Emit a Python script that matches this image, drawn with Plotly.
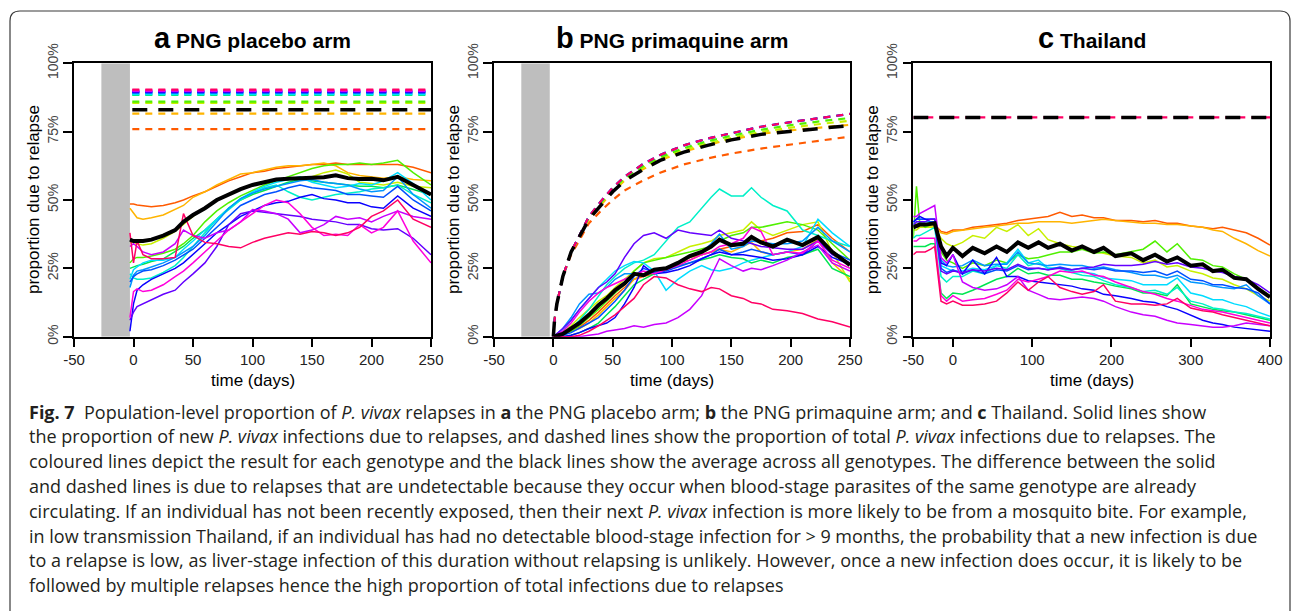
import plotly.graph_objects as go

W, H = 1293, 611

# ---------------- colours (one per genotype) ----------------
geno = ["orange", "amber", "lime", "green", "emerald", "aqua", "cyan", "sky",
        "azure", "blue", "violet", "purple", "magenta", "rose"]
colours = {
    "orange": "#FF5A00", "amber": "#FFB400", "lime": "#C8F000", "green": "#50F000",
    "emerald": "#00E650", "aqua": "#00F0C8", "cyan": "#00DCFF", "sky": "#0096FF",
    "azure": "#0050FF", "blue": "#0A00FF", "violet": "#6400FF", "purple": "#C800FF",
    "magenta": "#FF00DC", "rose": "#FF0064",
}

# ---------------- panel a: PNG placebo arm ----------------
xa = [-3, 0, 3, 8, 15, 25, 35, 42, 50, 60, 70, 80, 90, 100, 110, 120, 130, 140,
      150, 160, 170, 180, 190, 200, 210, 222, 235, 250]
a_mean = [0.355, 0.35, 0.35, 0.35, 0.355, 0.37, 0.39, 0.42, 0.445, 0.47, 0.50, 0.52, 0.54, 0.555,
          0.565, 0.575, 0.578, 0.58, 0.58, 0.583, 0.59, 0.58, 0.577, 0.578, 0.572, 0.585, 0.555, 0.52]
a_orange = [0.485, 0.485, 0.482, 0.478, 0.475, 0.48, 0.49, 0.50, 0.515, 0.53, 0.55, 0.57, 0.585, 0.60,
            0.605, 0.615, 0.62, 0.625, 0.63, 0.63, 0.635, 0.63, 0.63, 0.632, 0.63, 0.63, 0.62, 0.60]
a_amber = [0.47, 0.45, 0.435, 0.43, 0.435, 0.445, 0.465, 0.48, 0.51, 0.53, 0.555, 0.575, 0.595, 0.60,
           0.61, 0.62, 0.625, 0.625, 0.63, 0.635, 0.625, 0.60, 0.59, 0.585, 0.58, 0.585, 0.575, 0.57]
a_lime = [0.345, 0.345, 0.34, 0.335, 0.34, 0.36, 0.385, 0.41, 0.44, 0.47, 0.50, 0.52, 0.54, 0.555,
          0.565, 0.57, 0.575, 0.58, 0.585, 0.60, 0.61, 0.595, 0.565, 0.56, 0.555, 0.565, 0.55, 0.545]
a_green = [0.27, 0.285, 0.29, 0.29, 0.295, 0.305, 0.32, 0.34, 0.37, 0.42, 0.46, 0.49, 0.515, 0.535,
           0.555, 0.57, 0.585, 0.60, 0.615, 0.625, 0.63, 0.63, 0.635, 0.63, 0.635, 0.645, 0.60, 0.555]
a_emerald = [0.25, 0.255, 0.26, 0.265, 0.275, 0.285, 0.31, 0.33, 0.36, 0.39, 0.43, 0.47, 0.50, 0.52,
             0.535, 0.55, 0.565, 0.575, 0.57, 0.565, 0.56, 0.555, 0.55, 0.55, 0.545, 0.555, 0.54, 0.52]
a_aqua = [0.23, 0.215, 0.21, 0.21, 0.215, 0.235, 0.26, 0.29, 0.33, 0.38, 0.43, 0.465, 0.50, 0.525,
          0.545, 0.555, 0.53, 0.51, 0.50, 0.51, 0.52, 0.525, 0.53, 0.54, 0.545, 0.555, 0.52, 0.49]
a_cyan = [0.21, 0.245, 0.255, 0.27, 0.28, 0.28, 0.29, 0.32, 0.35, 0.39, 0.43, 0.47, 0.505, 0.53,
          0.55, 0.565, 0.575, 0.585, 0.565, 0.555, 0.545, 0.55, 0.56, 0.555, 0.57, 0.60, 0.56, 0.50]
a_sky = [0.18, 0.225, 0.24, 0.245, 0.255, 0.27, 0.29, 0.31, 0.33, 0.37, 0.42, 0.47, 0.505, 0.525,
         0.54, 0.55, 0.56, 0.57, 0.575, 0.565, 0.56, 0.555, 0.54, 0.53, 0.535, 0.585, 0.52, 0.47]
a_azure = [0.20, 0.22, 0.23, 0.24, 0.245, 0.26, 0.28, 0.30, 0.32, 0.36, 0.40, 0.44, 0.48, 0.50,
           0.52, 0.53, 0.545, 0.555, 0.545, 0.54, 0.535, 0.52, 0.52, 0.515, 0.51, 0.55, 0.50, 0.46]
a_blue = [0.02, 0.12, 0.17, 0.19, 0.21, 0.23, 0.25, 0.27, 0.30, 0.34, 0.38, 0.41, 0.44, 0.46,
          0.48, 0.49, 0.495, 0.51, 0.52, 0.505, 0.50, 0.49, 0.49, 0.475, 0.47, 0.515, 0.47, 0.44]
a_violet = [0.06, 0.09, 0.11, 0.12, 0.135, 0.155, 0.17, 0.20, 0.23, 0.27, 0.33, 0.41, 0.45, 0.46,
            0.455, 0.45, 0.445, 0.44, 0.43, 0.425, 0.42, 0.41, 0.41, 0.395, 0.39, 0.395, 0.36, 0.30]
a_purple = [0.33, 0.34, 0.33, 0.31, 0.30, 0.31, 0.34, 0.39, 0.37, 0.36, 0.38, 0.39, 0.42, 0.465,
            0.46, 0.45, 0.43, 0.38, 0.39, 0.41, 0.44, 0.43, 0.435, 0.42, 0.44, 0.46, 0.44, 0.43]
a_magenta = [0.07, 0.165, 0.175, 0.165, 0.17, 0.19, 0.22, 0.24, 0.27, 0.31, 0.35, 0.39, 0.42, 0.45,
             0.48, 0.50, 0.49, 0.45, 0.40, 0.37, 0.375, 0.37, 0.41, 0.38, 0.40, 0.46, 0.35, 0.27]
a_rose = [0.38, 0.27, 0.35, 0.30, 0.285, 0.285, 0.29, 0.45, 0.37, 0.345, 0.34, 0.33, 0.325, 0.345,
          0.36, 0.37, 0.38, 0.375, 0.385, 0.38, 0.37, 0.38, 0.40, 0.44, 0.46, 0.50, 0.43, 0.40]
# dashed (total infections due to relapse): constant level per genotype
xa_dash = [-1, 250]
a_total = {"orange": 0.759, "amber": 0.816, "lime": 0.855, "green": 0.86, "emerald": 0.884,
           "aqua": 0.886, "cyan": 0.888, "sky": 0.892, "azure": 0.894, "blue": 0.895,
           "violet": 0.897, "purple": 0.899, "magenta": 0.902, "rose": 0.904}
a_total_mean = 0.83

# ---------------- panel b: PNG primaquine arm ----------------
xb = [0, 8, 15, 22, 30, 38, 45, 52, 60, 68, 76, 85, 95, 105, 115, 125, 133, 140,
      150, 160, 167, 175, 185, 197, 210, 223, 235, 250]
b_mean = [0, 0.01, 0.03, 0.05, 0.08, 0.115, 0.14, 0.17, 0.195, 0.23, 0.225, 0.245, 0.25, 0.27,
          0.295, 0.31, 0.33, 0.355, 0.335, 0.34, 0.365, 0.345, 0.33, 0.355, 0.335, 0.365, 0.31, 0.262]
b_orange = [0, 0.01, 0.02, 0.035, 0.06, 0.09, 0.12, 0.15, 0.18, 0.21, 0.22, 0.23, 0.25, 0.27,
            0.28, 0.30, 0.31, 0.32, 0.33, 0.34, 0.35, 0.35, 0.36, 0.38, 0.385, 0.41, 0.36, 0.31]
b_amber = [0, 0.01, 0.02, 0.03, 0.05, 0.08, 0.11, 0.14, 0.17, 0.21, 0.23, 0.24, 0.25, 0.27,
           0.29, 0.30, 0.31, 0.32, 0.31, 0.33, 0.345, 0.31, 0.30, 0.31, 0.32, 0.355, 0.27, 0.21]
b_lime = [0, 0.015, 0.04, 0.07, 0.10, 0.13, 0.15, 0.18, 0.21, 0.24, 0.27, 0.285, 0.29, 0.31,
          0.33, 0.34, 0.35, 0.37, 0.38, 0.39, 0.42, 0.39, 0.37, 0.39, 0.41, 0.42, 0.31, 0.20]
b_green = [0, 0.01, 0.02, 0.04, 0.07, 0.10, 0.13, 0.16, 0.19, 0.24, 0.27, 0.28, 0.29, 0.30,
           0.31, 0.32, 0.33, 0.35, 0.37, 0.38, 0.40, 0.40, 0.41, 0.42, 0.41, 0.39, 0.34, 0.28]
b_emerald = [0, 0, 0.005, 0.015, 0.03, 0.05, 0.08, 0.11, 0.15, 0.19, 0.21, 0.23, 0.245, 0.26,
             0.27, 0.28, 0.29, 0.30, 0.29, 0.285, 0.27, 0.28, 0.27, 0.29, 0.30, 0.32, 0.25, 0.22]
b_aqua = [0, 0.01, 0.03, 0.06, 0.10, 0.15, 0.19, 0.22, 0.25, 0.27, 0.28, 0.30, 0.35, 0.40,
          0.42, 0.47, 0.51, 0.54, 0.515, 0.515, 0.545, 0.51, 0.48, 0.46, 0.39, 0.37, 0.35, 0.33]
b_cyan = [0, 0.02, 0.06, 0.10, 0.14, 0.18, 0.21, 0.24, 0.26, 0.275, 0.27, 0.24, 0.17, 0.21,
          0.24, 0.26, 0.245, 0.24, 0.25, 0.27, 0.28, 0.29, 0.30, 0.31, 0.33, 0.43, 0.38, 0.33]
b_sky = [0, 0.03, 0.07, 0.12, 0.155, 0.16, 0.18, 0.21, 0.23, 0.23, 0.225, 0.235, 0.25, 0.27,
         0.29, 0.31, 0.34, 0.375, 0.32, 0.33, 0.35, 0.345, 0.34, 0.34, 0.35, 0.40, 0.35, 0.31]
b_azure = [0, 0.005, 0.015, 0.03, 0.05, 0.07, 0.10, 0.13, 0.17, 0.22, 0.25, 0.235, 0.24, 0.255,
           0.27, 0.285, 0.30, 0.32, 0.30, 0.31, 0.32, 0.31, 0.30, 0.31, 0.30, 0.35, 0.31, 0.28]
b_blue = [0, 0, 0.005, 0.015, 0.03, 0.04, 0.05, 0.07, 0.12, 0.18, 0.26, 0.23, 0.235, 0.245,
          0.26, 0.285, 0.30, 0.31, 0.30, 0.30, 0.295, 0.29, 0.28, 0.285, 0.30, 0.33, 0.29, 0.265]
b_violet = [0, 0.03, 0.06, 0.10, 0.14, 0.18, 0.20, 0.23, 0.29, 0.34, 0.37, 0.38, 0.36, 0.39,
            0.38, 0.375, 0.37, 0.39, 0.36, 0.35, 0.34, 0.33, 0.325, 0.32, 0.32, 0.35, 0.30, 0.27]
b_purple = [0, 0, 0, 0, 0.005, 0.01, 0.02, 0.025, 0.03, 0.04, 0.035, 0.045, 0.05, 0.07,
            0.10, 0.15, 0.22, 0.285, 0.26, 0.24, 0.25, 0.245, 0.26, 0.28, 0.31, 0.335, 0.27, 0.24]
b_magenta = [0, 0.02, 0.05, 0.09, 0.13, 0.16, 0.18, 0.195, 0.21, 0.225, 0.24, 0.23, 0.245, 0.26,
             0.28, 0.30, 0.31, 0.33, 0.34, 0.36, 0.40, 0.385, 0.30, 0.31, 0.305, 0.35, 0.28, 0.25]
b_rose = [0, 0, 0, 0.005, 0.02, 0.04, 0.06, 0.08, 0.11, 0.14, 0.19, 0.22, 0.215, 0.19,
          0.175, 0.165, 0.18, 0.175, 0.15, 0.14, 0.125, 0.12, 0.10, 0.095, 0.085, 0.065, 0.055, 0.035]
# dashed curves (total infections due to relapse)
xb_dash = [0, 1, 3, 8, 15, 20, 30, 40, 50, 60, 75, 90, 110, 130, 150, 175, 200, 225, 250]
b_total_mean = [0, 0.06, 0.12, 0.22, 0.31, 0.35, 0.43, 0.48, 0.53, 0.57, 0.61, 0.645, 0.675, 0.70,
                0.72, 0.74, 0.752, 0.762, 0.772]
b_total_high = [0, 0.06, 0.12, 0.22, 0.31, 0.355, 0.44, 0.495, 0.545, 0.585, 0.63, 0.665, 0.70,
                0.725, 0.745, 0.768, 0.785, 0.80, 0.815]
b_total_green = [0, 0.06, 0.12, 0.22, 0.31, 0.353, 0.437, 0.49, 0.54, 0.58, 0.622, 0.657, 0.69,
                 0.715, 0.735, 0.757, 0.774, 0.788, 0.80]
b_total_lime = [0, 0.06, 0.12, 0.22, 0.31, 0.352, 0.435, 0.487, 0.536, 0.575, 0.617, 0.651, 0.683,
                0.707, 0.727, 0.749, 0.765, 0.778, 0.79]
b_total_amber = [0, 0.06, 0.12, 0.22, 0.31, 0.35, 0.43, 0.481, 0.531, 0.571, 0.611, 0.646, 0.677,
                 0.702, 0.722, 0.742, 0.755, 0.765, 0.775]
b_total_orange = [0, 0.06, 0.12, 0.22, 0.30, 0.34, 0.415, 0.46, 0.50, 0.535, 0.57, 0.60, 0.63,
                  0.652, 0.67, 0.688, 0.703, 0.718, 0.732]

# ---------------- panel c: Thailand ----------------
xc = [-50, -46, -42, -35, -28, -23, -15, -8, 0, 12, 25, 40, 55, 68, 82, 95, 108, 120, 135,
      150, 163, 178, 190, 205, 225, 240, 255, 270, 283, 300, 315, 328, 340, 355, 370, 385, 400]
c_mean = [0.40, 0.405, 0.41, 0.41, 0.415, 0.415, 0.33, 0.295, 0.325, 0.295, 0.325, 0.305, 0.33,
          0.31, 0.345, 0.325, 0.345, 0.325, 0.34, 0.315, 0.33, 0.31, 0.325, 0.295, 0.305, 0.28,
          0.30, 0.275, 0.29, 0.26, 0.265, 0.24, 0.245, 0.215, 0.21, 0.175, 0.145]
c_orange = [0.41, 0.41, 0.41, 0.405, 0.41, 0.41, 0.385, 0.38, 0.39, 0.39, 0.40, 0.405, 0.41,
            0.415, 0.425, 0.43, 0.435, 0.44, 0.455, 0.44, 0.445, 0.435, 0.435, 0.425, 0.425, 0.42,
            0.425, 0.415, 0.415, 0.405, 0.40, 0.395, 0.40, 0.39, 0.38, 0.36, 0.335]
c_amber = [0.40, 0.40, 0.40, 0.40, 0.405, 0.405, 0.38, 0.375, 0.385, 0.39, 0.395, 0.40, 0.405,
           0.41, 0.415, 0.415, 0.42, 0.42, 0.42, 0.415, 0.42, 0.425, 0.43, 0.425, 0.42, 0.415,
           0.415, 0.41, 0.41, 0.405, 0.40, 0.39, 0.385, 0.36, 0.34, 0.315, 0.295]
c_lime = [0.39, 0.39, 0.40, 0.40, 0.40, 0.40, 0.36, 0.34, 0.33, 0.345, 0.37, 0.36, 0.40, 0.385,
          0.41, 0.37, 0.395, 0.355, 0.34, 0.33, 0.325, 0.31, 0.305, 0.295, 0.29, 0.27, 0.28, 0.255,
          0.26, 0.24, 0.23, 0.215, 0.21, 0.19, 0.175, 0.15, 0.13]
c_green = [0.36, 0.55, 0.42, 0.40, 0.41, 0.41, 0.31, 0.28, 0.27, 0.25, 0.27, 0.26, 0.28, 0.27,
           0.30, 0.285, 0.29, 0.30, 0.31, 0.31, 0.32, 0.305, 0.31, 0.30, 0.31, 0.32, 0.35, 0.31,
           0.34, 0.285, 0.28, 0.26, 0.255, 0.23, 0.21, 0.18, 0.15]
c_emerald = [0.33, 0.33, 0.33, 0.33, 0.34, 0.34, 0.16, 0.14, 0.16, 0.155, 0.17, 0.19, 0.21, 0.22,
             0.25, 0.23, 0.235, 0.225, 0.225, 0.21, 0.21, 0.20, 0.195, 0.185, 0.175, 0.16, 0.16,
             0.15, 0.19, 0.12, 0.11, 0.10, 0.095, 0.09, 0.08, 0.07, 0.06]
c_aqua = [0.36, 0.37, 0.37, 0.38, 0.39, 0.40, 0.22, 0.20, 0.22, 0.22, 0.24, 0.23, 0.26, 0.25,
          0.30, 0.26, 0.27, 0.25, 0.25, 0.235, 0.225, 0.22, 0.205, 0.19, 0.18, 0.165, 0.17, 0.155,
          0.18, 0.13, 0.12, 0.105, 0.10, 0.09, 0.085, 0.075, 0.065]
c_cyan = [0.41, 0.42, 0.42, 0.42, 0.42, 0.42, 0.26, 0.25, 0.24, 0.24, 0.25, 0.245, 0.26, 0.27,
          0.32, 0.27, 0.28, 0.25, 0.25, 0.24, 0.235, 0.23, 0.215, 0.21, 0.205, 0.19, 0.19, 0.19,
          0.215, 0.16, 0.15, 0.135, 0.135, 0.12, 0.11, 0.09, 0.075]
c_sky = [0.42, 0.43, 0.43, 0.43, 0.43, 0.43, 0.28, 0.26, 0.255, 0.26, 0.28, 0.26, 0.265, 0.265,
         0.31, 0.27, 0.265, 0.26, 0.265, 0.26, 0.26, 0.25, 0.255, 0.245, 0.235, 0.225, 0.225,
         0.215, 0.225, 0.20, 0.195, 0.185, 0.18, 0.175, 0.19, 0.15, 0.12]
c_azure = [0.42, 0.43, 0.43, 0.43, 0.42, 0.42, 0.25, 0.235, 0.245, 0.23, 0.245, 0.23, 0.245, 0.24,
           0.26, 0.245, 0.25, 0.245, 0.255, 0.245, 0.25, 0.245, 0.25, 0.24, 0.24, 0.235, 0.24,
           0.225, 0.24, 0.21, 0.205, 0.19, 0.19, 0.18, 0.175, 0.16, 0.12]
c_blue = [0.42, 0.43, 0.44, 0.43, 0.43, 0.43, 0.27, 0.26, 0.30, 0.23, 0.28, 0.23, 0.29, 0.22,
          0.22, 0.205, 0.20, 0.195, 0.19, 0.185, 0.175, 0.17, 0.155, 0.15, 0.14, 0.13, 0.125, 0.11,
          0.10, 0.08, 0.06, 0.05, 0.045, 0.035, 0.03, 0.025, 0.02]
c_violet = [0.41, 0.42, 0.42, 0.42, 0.43, 0.43, 0.24, 0.23, 0.24, 0.235, 0.245, 0.24, 0.25, 0.245,
            0.265, 0.25, 0.25, 0.245, 0.25, 0.245, 0.25, 0.255, 0.265, 0.26, 0.26, 0.265, 0.275,
            0.265, 0.27, 0.255, 0.25, 0.24, 0.235, 0.22, 0.21, 0.19, 0.16]
c_purple = [0.44, 0.44, 0.45, 0.46, 0.47, 0.48, 0.29, 0.27, 0.30, 0.20, 0.18, 0.17, 0.175, 0.19,
            0.22, 0.17, 0.155, 0.14, 0.135, 0.14, 0.145, 0.14, 0.13, 0.11, 0.09, 0.08, 0.075, 0.06,
            0.05, 0.045, 0.04, 0.035, 0.035, 0.04, 0.05, 0.045, 0.04]
c_magenta = [0.35, 0.35, 0.36, 0.36, 0.36, 0.36, 0.15, 0.13, 0.15, 0.13, 0.135, 0.14, 0.155, 0.17,
             0.21, 0.20, 0.21, 0.22, 0.24, 0.235, 0.24, 0.225, 0.22, 0.20, 0.18, 0.165, 0.155,
             0.14, 0.13, 0.115, 0.10, 0.095, 0.09, 0.08, 0.07, 0.06, 0.05]
c_rose = [0.30, 0.31, 0.31, 0.31, 0.32, 0.33, 0.13, 0.12, 0.13, 0.115, 0.115, 0.12, 0.13, 0.16,
          0.20, 0.17, 0.20, 0.22, 0.18, 0.165, 0.155, 0.165, 0.19, 0.13, 0.12, 0.12, 0.115, 0.12,
          0.14, 0.105, 0.095, 0.09, 0.08, 0.07, 0.06, 0.05, 0.04]
xc_dash = [-50, 400]
c_total = 0.802

# ---------------- text ----------------
titles = [("a", "PNG placebo arm"), ("b", "PNG primaquine arm"), ("c", "Thailand")]
y_ticks = [0, 0.25, 0.5, 0.75, 1.0]
y_labels = ["0%", "25%", "50%", "75%", "100%"]
x_ticks_ab = [-50, 0, 50, 100, 150, 200, 250]
x_ticks_c = [-50, 0, 100, 200, 300, 400]
caption = [
    "<b>Fig. 7</b>\u00a0\u00a0Population-level proportion of <i>P. vivax</i> relapses in <b>a</b> the PNG placebo arm; "
    "<b>b</b> the PNG primaquine arm; and <b>c</b> Thailand. Solid lines show",
    "the proportion of new <i>P. vivax</i> infections due to relapses, and dashed lines show the proportion of total "
    "<i>P. vivax</i> infections due to relapses. The",
    "coloured lines depict the result for each genotype and the black lines show the average across all genotypes. "
    "The difference between the solid",
    "and dashed lines is due to relapses that are undetectable because they occur when blood-stage parasites of the "
    "same genotype are already",
    "circulating. If an individual has not been recently exposed, then their next <i>P. vivax</i> infection is more "
    "likely to be from a mosquito bite. For example,",
    "in low transmission Thailand, if an individual has had no detectable blood-stage infection for &gt; 9 months, "
    "the probability that a new infection is due",
    "to a relapse is low, as liver-stage infection of this duration without relapsing is unlikely. However, once a "
    "new infection does occur, it is likely to be",
    "followed by multiple relapses hence the high proportion of total infections due to relapses",
]

solid = {
    "a": (xa, {"orange": a_orange, "amber": a_amber, "lime": a_lime, "green": a_green,
               "emerald": a_emerald, "aqua": a_aqua, "cyan": a_cyan, "sky": a_sky, "azure": a_azure,
               "blue": a_blue, "violet": a_violet, "purple": a_purple, "magenta": a_magenta,
               "rose": a_rose}, a_mean),
    "b": (xb, {"orange": b_orange, "amber": b_amber, "lime": b_lime, "green": b_green,
               "emerald": b_emerald, "aqua": b_aqua, "cyan": b_cyan, "sky": b_sky, "azure": b_azure,
               "blue": b_blue, "violet": b_violet, "purple": b_purple, "magenta": b_magenta,
               "rose": b_rose}, b_mean),
    "c": (xc, {"orange": c_orange, "amber": c_amber, "lime": c_lime, "green": c_green,
               "emerald": c_emerald, "aqua": c_aqua, "cyan": c_cyan, "sky": c_sky, "azure": c_azure,
               "blue": c_blue, "violet": c_violet, "purple": c_purple, "magenta": c_magenta,
               "rose": c_rose}, c_mean),
}

# ---------------- figure ----------------
def px_x(p):
    return p / W

def px_y(p):
    return 1 - p / H

dom_x = {"a": [px_x(74), px_x(431)], "b": [px_x(494), px_x(850)], "c": [px_x(913.3), px_x(1270)]}
dom_y = [px_y(336.7), px_y(63.3)]
axn = {"a": ("x", "y"), "b": ("x2", "y2"), "c": ("x3", "y3")}

fig = go.Figure()
COL_DASH = "7px,6px"
BLK_DASH = "15px,11px"

def add(panel, x, y, color, width, dash="solid"):
    xr, yr = axn[panel]
    fig.add_trace(go.Scatter(x=x, y=y, mode="lines", xaxis=xr, yaxis=yr, showlegend=False,
                             hoverinfo="skip",
                             line=dict(color=color, width=width, dash=dash)))

# panel a dashed
for g in geno:
    add("a", xa_dash, [a_total[g], a_total[g]], colours[g], 2.2, COL_DASH)
add("a", xa_dash, [a_total_mean, a_total_mean], "black", 3.5, BLK_DASH)

# panel b dashed
for g, arr in [("orange", b_total_orange), ("amber", b_total_amber), ("lime", b_total_lime),
               ("green", b_total_green), ("cyan", b_total_high), ("blue", b_total_high),
               ("rose", b_total_high)]:
    add("b", xb_dash, arr, colours[g], 2.2, COL_DASH)
add("b", xb_dash, b_total_mean, "black", 3.5, BLK_DASH)

# panel c dashed
add("c", xc_dash, [c_total, c_total], colours["rose"], 2.2, COL_DASH)
add("c", xc_dash, [c_total, c_total], "black", 3.5, BLK_DASH)

# solid lines
for panel in ["a", "b", "c"]:
    x, series, mean = solid[panel]
    for g in geno:
        add(panel, x, series[g], colours[g], 1.5)
    add(panel, x, mean, "black", 4)

axis_common = dict(showgrid=False, zeroline=False, showline=True, mirror=True, linecolor="black",
                   linewidth=1.5, ticks="outside", ticklen=9, tickwidth=1.5, tickcolor="black",
                   automargin=False)
tick_font = dict(family="Liberation Sans, Arial, sans-serif", size=15, color="#222222")

layout = dict(width=W, height=H, margin=dict(l=0, r=0, t=0, b=0, pad=0),
              paper_bgcolor="white", plot_bgcolor="white", showlegend=False)
for i, panel in enumerate(["a", "b", "c"]):
    sfx = "" if i == 0 else str(i + 1)
    xt = x_ticks_c if panel == "c" else x_ticks_ab
    xrange = [-50, 400] if panel == "c" else [-50, 250]
    layout["xaxis" + sfx] = dict(axis_common, domain=dom_x[panel], range=xrange, tickvals=xt,
                                 ticktext=[str(v) for v in xt], tickfont=tick_font,
                                 anchor="y" + sfx)
    layout["yaxis" + sfx] = dict(axis_common, domain=dom_y, range=[0, 1], tickvals=y_ticks,
                                 ticktext=y_labels, tickangle=-90,
                                 tickfont=dict(family="Liberation Sans, Arial, sans-serif", size=14,
                                               color="#444444"),
                                 anchor="x" + sfx)
fig.update_layout(**layout)

# gray pre-treatment band in panels a and b
for panel in ["a", "b"]:
    xr, yr = axn[panel]
    fig.add_shape(type="rect", xref=xr, yref=yr, x0=-27, x1=-3, y0=0, y1=1,
                  fillcolor="#BEBEBE", line=dict(width=0), layer="below")

# titles and axis titles
title_font = "Liberation Sans, Arial, sans-serif"
for panel, (letter, name) in zip(["a", "b", "c"], titles):
    cx = (dom_x[panel][0] + dom_x[panel][1]) / 2
    fig.add_annotation(xref="paper", yref="paper", x=cx, y=px_y(38), xanchor="center",
                       yanchor="middle", showarrow=False,
                       text=f"<span style='font-size:29px'><b>{letter}</b></span> <b>{name}</b>",
                       font=dict(family=title_font, size=21, color="black"))
    fig.add_annotation(xref="paper", yref="paper", x=cx, y=px_y(380), xanchor="center",
                       yanchor="middle", showarrow=False, text="time (days)",
                       font=dict(family=title_font, size=17, color="black"))
    left = dom_x[panel][0] * W
    fig.add_annotation(xref="paper", yref="paper", x=px_x(left - 41), y=px_y(200),
                       xanchor="center", yanchor="middle", showarrow=False, textangle=-90,
                       text="proportion due to relapse",
                       font=dict(family=title_font, size=17, color="black"))

# caption
for i, line in enumerate(caption):
    fig.add_annotation(xref="paper", yref="paper", x=px_x(26.5), y=px_y(411.5 + 24.8 * i),
                       xanchor="left", yanchor="middle", showarrow=False, text=line,
                       font=dict(family="Open Sans, Lato, sans-serif", size=18, color="#231f20"))

# rounded outer frame
x0, x1, y0 = px_x(10), px_x(1290), px_y(11)
rx, ry = 10 / W, 10 / H
path = (f"M {x0},0 L {x0},{y0 - ry} Q {x0},{y0} {x0 + rx},{y0} L {x1 - rx},{y0} "
        f"Q {x1},{y0} {x1},{y0 - ry} L {x1},0")
fig.add_shape(type="path", xref="paper", yref="paper", path=path,
              line=dict(color="#3a3a3a", width=1.2))

fig.write_html("out.html", config={"displayModeBar": False},
               post_script="document.body.style.margin='0';document.body.style.padding='0';")
